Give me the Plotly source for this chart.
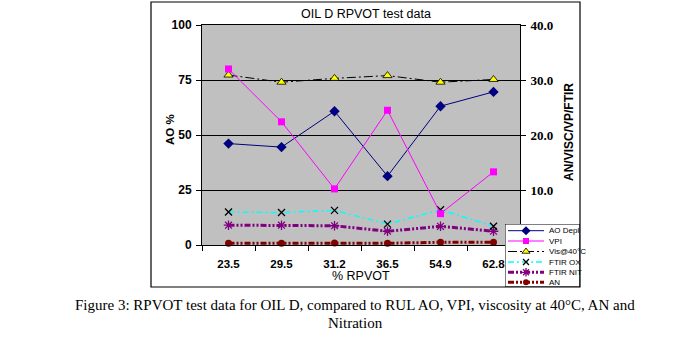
import plotly.graph_objects as go

# ---- data ----
categories = ["23.5", "29.5", "31.2", "36.5", "54.9", "62.8"]
ao_depl = [46.1, 44.5, 60.8, 31.3, 63.1, 69.6]      # left axis (AO %)
vpi = [32.0, 22.4, 10.2, 24.5, 5.7, 13.3]           # right axis
visc40 = [30.9, 29.6, 30.3, 30.8, 29.6, 30.1]       # right axis
ftir_ox = [6.0, 5.9, 6.3, 3.8, 6.4, 3.4]            # right axis
ftir_nit = [3.6, 3.6, 3.5, 2.5, 3.4, 2.5]           # right axis
an = [0.3, 0.3, 0.35, 0.3, 0.5, 0.5]                # right axis
left_ticks = [0, 25, 50, 75, 100]
right_ticks = [10, 20, 30, 40]
series_names = ["AO Depl", "VPI", "Vis@40\u00b0C", "FTIR OX", "FTIR NIT", "AN"]

W, H = 693, 351
PX0, PX1, PY0, PY1 = 202, 520, 25, 245   # plot area in pixels

styles = [
    dict(line=dict(color="#000080", width=1), marker=dict(symbol="diamond", size=8, color="#000080")),
    dict(line=dict(color="#FF00FF", width=1), marker=dict(symbol="square", size=7, color="#FF00FF")),
    dict(line=dict(color="#000000", width=1, dash="9px,3px,2px,3px"),
         marker=dict(symbol="triangle-up", size=8, color="#FFFF00", line=dict(color="#000000", width=0.8))),
    dict(line=dict(color="#00FFFF", width=1.5, dash="6px,3px,2px,3px"),
         marker=dict(symbol="x-thin", size=7, color="#000000", line=dict(color="#000000", width=1.3))),
    dict(line=dict(color="#800080", width=3, dash="6px,2px,2px,2px,2px,2px"),
         marker=dict(symbol="asterisk", size=8, color="#800080", line=dict(color="#800080", width=1.3))),
    dict(line=dict(color="#800000", width=3, dash="6px,2px,2px,2px,2px,2px"),
         marker=dict(symbol="circle", size=7, color="#800000")),
]

fig = go.Figure()
series = [ao_depl, vpi, visc40, ftir_ox, ftir_nit, an]
axes = ["y", "y2", "y2", "y2", "y2", "y2"]
# draw in reverse so AO is on top
for i in [5, 4, 3, 2, 1, 0]:
    fig.add_trace(go.Scatter(x=categories, y=series[i], name=series_names[i], mode="lines+markers",
                             yaxis=axes[i], showlegend=False, cliponaxis=False, **styles[i]))

# ---- manual legend (small overlay subplot) ----
LX0, LX1, LY0, LY1 = 505, 580, 224, 287
leg_y = [230.7, 241.0, 251.5, 262.0, 272.3, 282.3]
for i in range(6):
    st = styles[i]
    fig.add_trace(go.Scatter(x=[508, 544], y=[leg_y[i], leg_y[i]], mode="lines", line=st["line"],
                             xaxis="x3", yaxis="y3", showlegend=False, hoverinfo="skip"))
    m = dict(st["marker"])
    m["size"] = max(m["size"] - 1, 5)
    fig.add_trace(go.Scatter(x=[526], y=[leg_y[i]], mode="markers", marker=m,
                             xaxis="x3", yaxis="y3", showlegend=False, hoverinfo="skip"))

annotations = []
for i in range(6):
    annotations.append(dict(x=547, y=leg_y[i], xref="x3", yref="y3", text=series_names[i],
                            showarrow=False, xanchor="left", yanchor="middle",
                            font=dict(family="Arial, Liberation Sans", size=8, color="black")))

def px(x):
    return x / W

def py(y):
    return 1 - y / H

def ann(x, y, text, font, **kw):
    d = dict(x=px(x), y=py(y), xref="paper", yref="paper", text=text, showarrow=False,
             xanchor="center", yanchor="middle", font=font)
    d.update(kw)
    return d

arial = "Arial, Liberation Sans"
serif = "Liberation Serif, Times New Roman"
annotations += [
    ann(366, 14, "OIL D RPVOT test data", dict(family=arial, size=12.5, color="black")),
    ann(361, 276, "% RPVOT", dict(family=arial, size=12.5, color="black")),
    ann(170, 130, "<b>AO %</b>", dict(family=arial, size=11.5, color="black"), textangle=-90),
    ann(569, 132, "<b>AN/VISC/VP/FTIR</b>", dict(family=arial, size=12, color="black"), textangle=-90),
    ann(355, 305, "Figure 3: RPVOT test data for OIL D, compared to RUL AO, VPI, viscosity at 40\u00b0C, AN and",
        dict(family=serif, size=15, color="black")),
    ann(355, 323, "Nitration", dict(family=serif, size=15, color="black")),
]

shapes = [
    # legend box (white, covers plot below it, under legend traces)
    dict(type="rect", xref="x3", yref="y3", x0=LX0, x1=LX1, y0=LY0, y1=LY1, layer="below",
         fillcolor="white", line=dict(color="black", width=1)),
    # outer chart frame
    dict(type="rect", xref="paper", yref="paper", x0=px(151), x1=px(580), y0=py(287), y1=py(2),
         layer="above", line=dict(color="black", width=1.2), fillcolor="rgba(0,0,0,0)"),
]

fig.update_layout(
    width=W, height=H,
    margin=dict(l=0, r=0, t=0, b=0, autoexpand=False),
    paper_bgcolor="white",
    plot_bgcolor="#C0C0C0",
    showlegend=False,
    annotations=annotations,
    shapes=shapes,
    xaxis=dict(domain=[px(PX0), px(PX1)], type="category", range=[-0.5, len(categories) - 0.5],
               autorange=False, showgrid=False, showline=True,
               linecolor="black", linewidth=1, mirror=True, ticks="outside", tickson="boundaries",
               ticklen=5, tickcolor="black", ticklabelstandoff=8, automargin=False,
               tickfont=dict(family=arial, size=11.5, color="black", weight="bold"),
               fixedrange=True, zeroline=False),
    yaxis=dict(domain=[py(PY1), py(PY0)], range=[0, 100], tickvals=left_ticks, showgrid=True,
               gridcolor="black", gridwidth=1, showline=True, linecolor="black", linewidth=1,
               ticks="outside", ticklen=5, tickcolor="black", ticklabelstandoff=2, zeroline=False,
               automargin=False,
               tickfont=dict(family=arial, size=12, color="black", weight="bold"),
               fixedrange=True),
    yaxis2=dict(overlaying="y", side="right", range=[0, 40], tickvals=right_ticks,
                ticktext=[f"{v:.1f}" for v in right_ticks], showgrid=False, showline=True,
                linecolor="black", linewidth=1, ticks="outside", ticklen=5, tickcolor="black",
                ticklabelstandoff=2, zeroline=False, automargin=False,
                tickfont=dict(family=serif, size=13, color="black", weight="bold"),
                fixedrange=True),
    xaxis3=dict(domain=[px(LX0), px(LX1)], range=[LX0, LX1], anchor="y3", visible=False,
                fixedrange=True, automargin=False),
    yaxis3=dict(domain=[py(LY1), py(LY0)], range=[LY1, LY0], anchor="x3", visible=False,
                fixedrange=True, automargin=False),
)

fig.write_html("out.html")
